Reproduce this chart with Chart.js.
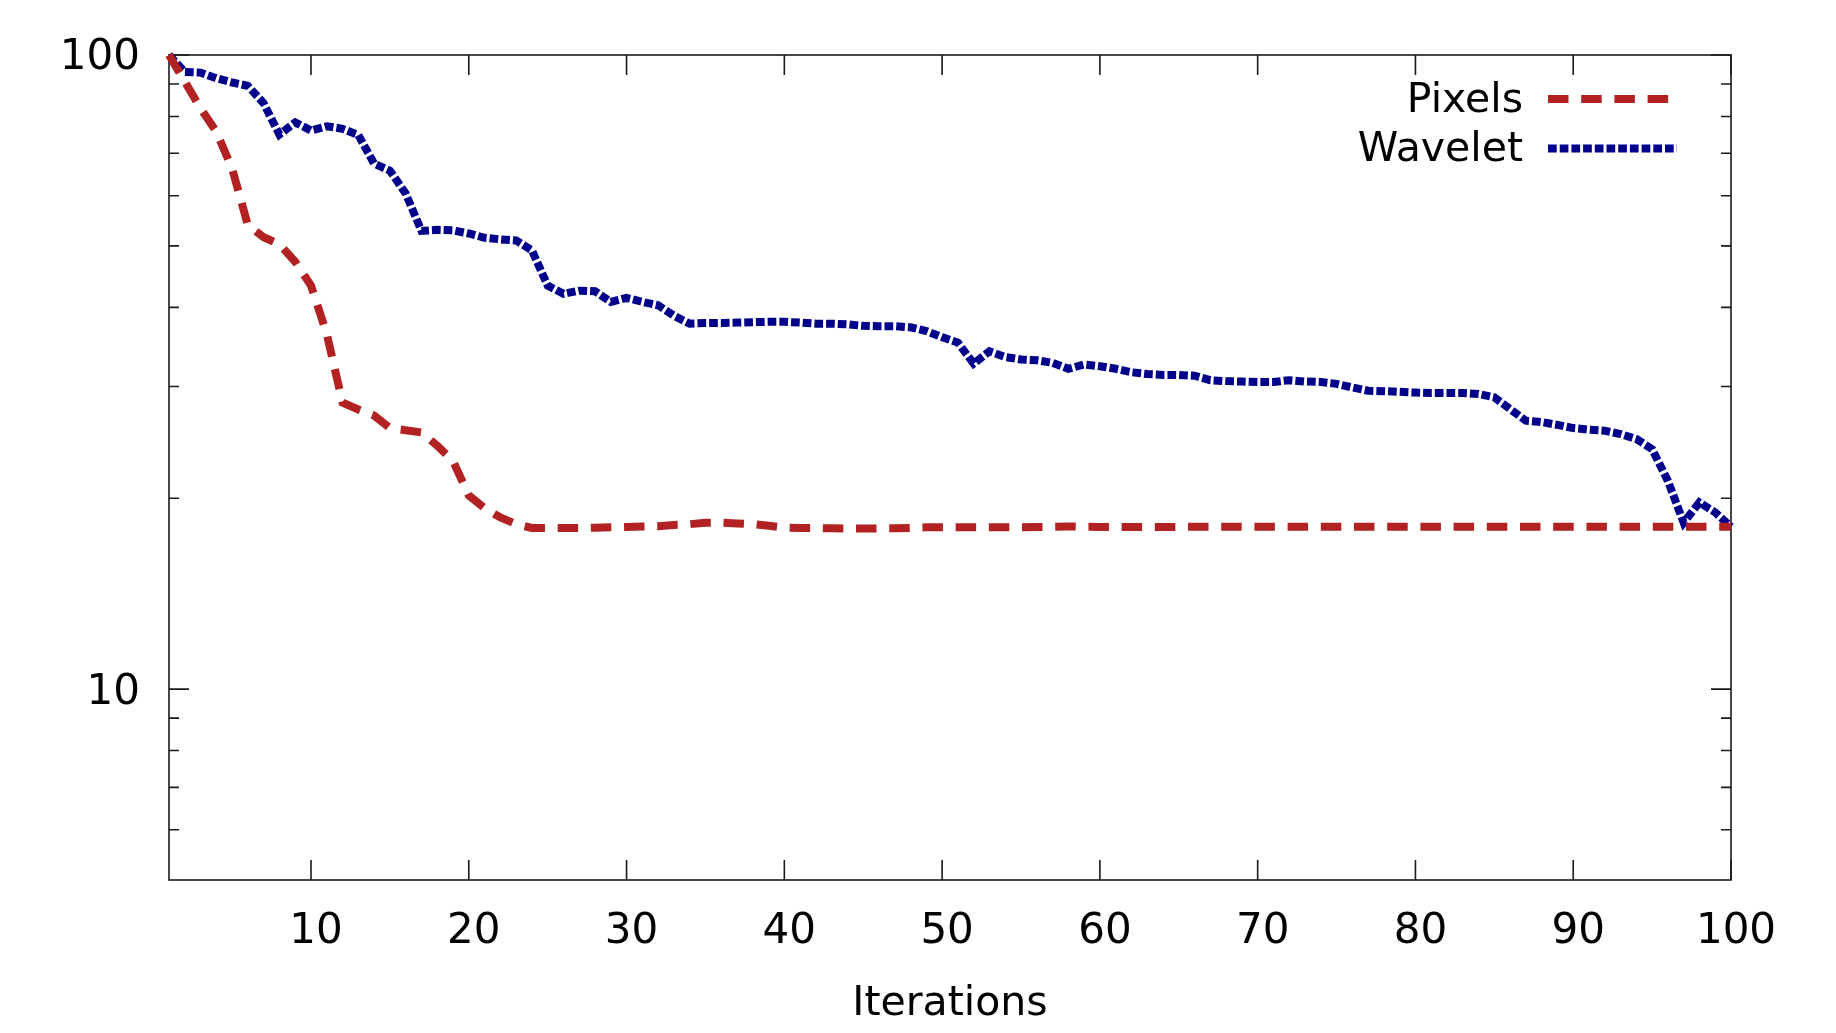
<!DOCTYPE html>
<html lang="en">
<head>
<meta charset="utf-8">
<title>Pixels vs Wavelet</title>
<script src="https://cdn.jsdelivr.net/npm/chart.js@4.4.1/dist/chart.umd.min.js"></script>
<style>
    html, body { margin: 0; padding: 0; background: #ffffff; }
    #wrap { position: relative; width: 1836px; height: 1033px; }
</style>
</head>
<body>
<div id="wrap"><canvas id="chartIterations"></canvas></div>
<script>
// Values (x = iteration, y = log scale).
var iterations = [
    1, 2, 3, 4, 5, 6, 7, 8, 9, 10, 11, 12, 13, 14, 15, 16, 17, 18, 19, 20,
    21, 22, 23, 24, 25, 26, 27, 28, 29, 30, 31, 32, 33, 34, 35, 36, 37, 38, 39, 40,
    41, 42, 43, 44, 45, 46, 47, 48, 49, 50, 51, 52, 53, 54, 55, 56, 57, 58, 59, 60,
    61, 62, 63, 64, 65, 66, 67, 68, 69, 70, 71, 72, 73, 74, 75, 76, 77, 78, 79, 80,
    81, 82, 83, 84, 85, 86, 87, 88, 89, 90, 91, 92, 93, 94, 95, 96, 97, 98, 99, 100
];

var pixels = [
    100, 90.8, 82.4, 75.7, 66.2, 53.9, 51.6, 50.3, 47.2, 43.3,
    36.3, 28.3, 27.6, 27.0, 25.8, 25.6, 25.4, 24.2, 22.9, 20.2,
    19.3, 18.65, 18.2, 17.95, 17.95, 17.95, 17.95, 17.97, 18.0, 18.02,
    18.05, 18.07, 18.15, 18.2, 18.3, 18.3, 18.25, 18.2, 18.1, 17.97,
    17.95, 17.95, 17.93, 17.92, 17.92, 17.92, 17.93, 17.96, 18.0, 18.0,
    18.0, 18.0, 18.0, 18.0, 18.0, 18.02, 18.03, 18.05, 18.03, 18.02,
    18.02, 18.02, 18.02, 18.02, 18.02, 18.03, 18.03, 18.03, 18.03, 18.03,
    18.03, 18.03, 18.03, 18.03, 18.03, 18.03, 18.03, 18.03, 18.03, 18.03,
    18.03, 18.03, 18.03, 18.03, 18.03, 18.03, 18.03, 18.03, 18.03, 18.03,
    18.03, 18.03, 18.03, 18.03, 18.03, 18.03, 18.03, 18.03, 18.03, 18.03
];

var wavelet = [
    100, 94.0, 93.8, 91.9, 90.5, 89.4, 83.9, 74.9, 78.3, 76.0,
    77.2, 76.5, 74.8, 67.4, 65.7, 60.5, 52.8, 53.0, 52.9, 52.3,
    51.5, 51.2, 51.0, 49.2, 43.3, 42.0, 42.5, 42.4, 40.8, 41.4,
    40.8, 40.3, 38.8, 37.7, 37.8, 37.8, 37.85, 37.9, 37.95, 37.95,
    37.85, 37.7, 37.7, 37.6, 37.4, 37.35, 37.35, 37.2, 36.7, 35.9,
    35.2, 32.6, 34.1, 33.4, 33.1, 33.0, 32.7, 32.0, 32.5, 32.3,
    32.0, 31.6, 31.4, 31.3, 31.3, 31.2, 30.7, 30.6, 30.55, 30.5,
    30.5, 30.7, 30.55, 30.5, 30.3, 29.9, 29.55, 29.5, 29.43, 29.35,
    29.3, 29.3, 29.3, 29.2, 28.85, 27.65, 26.5, 26.37, 26.1, 25.8,
    25.65, 25.55, 25.25, 24.8, 23.9, 21.3, 18.3, 19.7, 19.0, 18.03
];

var seriesLabels = ['Pixels', 'Wavelet'];
var xTicks = [10, 20, 30, 40, 50, 60, 70, 80, 90, 100];
var yTicks = [10, 100];
var yMinorTicks = [6, 7, 8, 9, 20, 30, 40, 50, 60, 70, 80, 90];

(function () {
    'use strict';

    var canvas = document.getElementById('chartIterations');
    if (!canvas || typeof Chart === 'undefined') {
        return;
    }

    var FONT = 'DejaVu Sans';

    function points(values) {
        return iterations.map(function (it, i) { return { x: it, y: values[i] }; });
    }

    // Gnuplot-style frame: box around the plot, ticks pointing inward on all four sides.
    var frame = {
        id: 'frame',
        beforeDatasetsDraw: function (chart) {
            var ctx = chart.ctx;
            var a = chart.chartArea;
            var xs = chart.scales.x;
            var ys = chart.scales.y;

            ctx.save();
            ctx.strokeStyle = '#1a1a1a';
            ctx.lineWidth = 1.6;
            ctx.beginPath();
            xTicks.forEach(function (v) {
                var px = xs.getPixelForValue(v);
                ctx.moveTo(px, a.bottom); ctx.lineTo(px, a.bottom - 20);
                ctx.moveTo(px, a.top);    ctx.lineTo(px, a.top + 20);
            });
            yTicks.forEach(function (v) {
                var py = ys.getPixelForValue(v);
                ctx.moveTo(a.left, py);  ctx.lineTo(a.left + 20, py);
                ctx.moveTo(a.right, py); ctx.lineTo(a.right - 20, py);
            });
            yMinorTicks.forEach(function (v) {
                var py = ys.getPixelForValue(v);
                ctx.moveTo(a.left, py);  ctx.lineTo(a.left + 10, py);
                ctx.moveTo(a.right, py); ctx.lineTo(a.right - 10, py);
            });
            ctx.stroke();
            ctx.strokeRect(a.left, a.top, a.right - a.left, a.bottom - a.top);
            ctx.restore();
        }
    };

    // Key in the top right corner: text first, line sample after it.
    var key = {
        id: 'key',
        afterDatasetsDraw: function (chart) {
            var ctx = chart.ctx;
            var a = chart.chartArea;

            ctx.save();
            ctx.font = '41px "' + FONT + '"';
            ctx.textAlign = 'right';
            ctx.textBaseline = 'middle';
            ctx.fillStyle = '#000000';
            chart.data.datasets.forEach(function (ds, k) {
                var y = a.top + 46 + k * 49.5;
                ctx.fillText(ds.label, a.right - 208, y);
                ctx.strokeStyle = ds.borderColor;
                ctx.lineWidth = ds.borderWidth;
                ctx.setLineDash(ds.borderDash);
                ctx.beginPath();
                ctx.moveTo(a.right - 183, y - 2);
                ctx.lineTo(a.right - 54, y - 2);
                ctx.stroke();
            });
            ctx.restore();
        }
    };

    new Chart(canvas, {
        type: 'line',
        data: {
            datasets: [{
                label: seriesLabels[0],
                data: points(pixels),
                borderColor: '#b22222',
                borderWidth: 8,
                borderDash: [20.5, 12.7],
                pointRadius: 0,
                tension: 0,
                clip: false
            }, {
                label: seriesLabels[1],
                data: points(wavelet),
                borderColor: '#00008b',
                borderWidth: 8,
                borderDash: [8.7, 3],
                pointRadius: 0,
                tension: 0,
                clip: false
            }]
        },
        options: {
            responsive: true,
            maintainAspectRatio: false,
            animation: false,
            events: [],
            layout: { padding: { top: 55, right: 105, left: 0, bottom: 0 } },
            plugins: {
                legend: { display: false },
                tooltip: { enabled: false }
            },
            scales: {
                x: {
                    type: 'linear',
                    min: 1,
                    max: 100,
                    afterBuildTicks: function (s) {
                        s.ticks = xTicks.map(function (v) { return { value: v }; });
                    },
                    afterFit: function (s) { s.height = 153; },
                    grid: { display: false, drawTicks: false },
                    border: { display: false },
                    ticks: {
                        autoSkip: false,
                        maxRotation: 0,
                        padding: 26.5,
                        labelOffset: 5,
                        color: '#000000',
                        font: { family: FONT, size: 42 },
                        callback: function (v) { return String(v); }
                    },
                    title: {
                        display: true,
                        text: 'Iterations',
                        color: '#000000',
                        font: { family: FONT, size: 41, lineHeight: 1 },
                        padding: { top: 0, bottom: 8.5 }
                    }
                },
                y: {
                    type: 'logarithmic',
                    min: 5,
                    max: 100,
                    afterBuildTicks: function (s) {
                        s.ticks = yTicks.map(function (v) { return { value: v }; });
                    },
                    afterFit: function (s) { s.width = 169; },
                    grid: { display: false, drawTicks: false },
                    border: { display: false },
                    ticks: {
                        autoSkip: false,
                        padding: 29,
                        labelOffset: 3.5,
                        color: '#000000',
                        font: { family: FONT, size: 42 },
                        callback: function (v) { return String(v); }
                    }
                }
            }
        },
        plugins: [frame, key]
    });
})();
</script>
</body>
</html>
